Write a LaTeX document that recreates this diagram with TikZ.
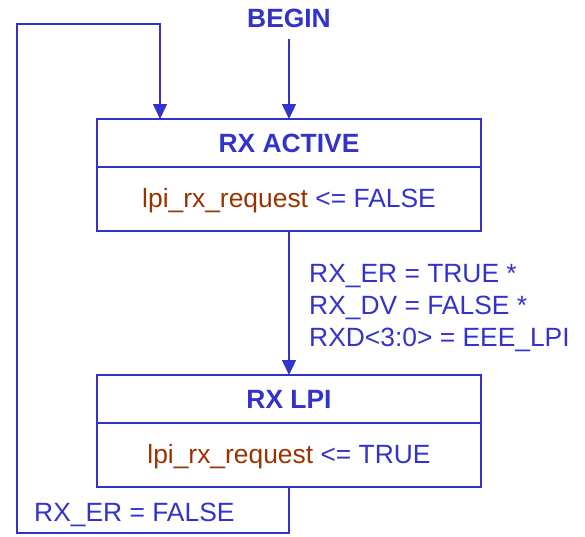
\documentclass[tikz,border=0pt]{standalone}
\usepackage{fontspec}
\setmainfont{Liberation Sans}
\usetikzlibrary{positioning,arrows.meta}
\definecolor{fsmblue}{RGB}{51,51,204}
\definecolor{fsmbrown}{RGB}{153,51,0}
\begin{document}
\begin{tikzpicture}[x=1pt,y=-1pt,
    font=\fontsize{26.4pt}{32pt}\selectfont,
    every node/.style={text=fsmblue},
    title/.style={draw=fsmblue, line width=2.4pt, outer sep=0pt, minimum width=384pt, minimum height=48pt, inner sep=0pt, text depth=-5pt, font=\fontsize{26.4pt}{32pt}\selectfont\bfseries},
    action/.style={draw=fsmblue, line width=2.4pt, outer sep=0pt, minimum width=384pt, minimum height=64pt, inner sep=0pt, text depth=2pt},
    conn/.style={draw=fsmblue, line width=1.5pt, -{Triangle[length=15pt,width=14pt]}}]
      \useasboundingbox (0,0) rectangle (585,536);
      \node[font=\fontsize{26.4pt}{32pt}\selectfont\bfseries] (begin) at (289,18) {BEGIN};
      \node[title] (activeT) at (289,143) {RX ACTIVE};
      \node[action, below=0pt of activeT] (activeA) {\textcolor{fsmbrown}{lpi\_rx\_request} <= FALSE};
      \node[title] (lpiT) at (289,399) {RX LPI};
      \node[action, below=0pt of lpiT] (lpiA) {\textcolor{fsmbrown}{lpi\_rx\_request} <= TRUE};
      \node[anchor=west, align=left, inner sep=0pt] (cond) at (309,308) {RX\_ER = TRUE *\\RX\_DV = FALSE *\\RXD<3:0> = EEE\_LPI};
      \node[anchor=west, inner sep=0pt] (back) at (34,515) {RX\_ER = FALSE};
      \coordinate (bot) at (17,533);
      \coordinate (top) at (17,24);
      \draw[conn] (begin.south |- 0,39) -- (activeT.north);
      \draw[conn] (activeA.south) -- (lpiT.north);
      \draw[conn] (lpiA.south) |- (bot) |- (top) -| ([xshift=63pt]activeT.north west);
    \end{tikzpicture}
\end{document}
